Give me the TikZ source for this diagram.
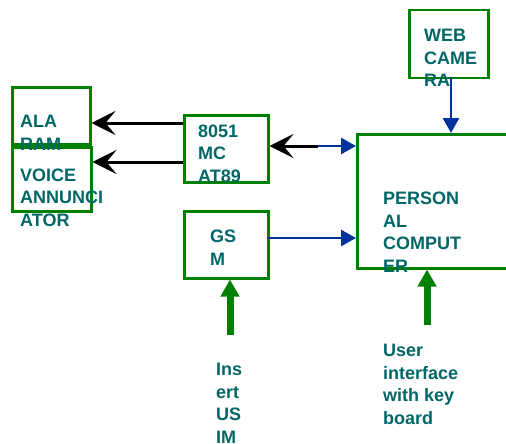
\documentclass[tikz,border=0pt]{standalone}
\usepackage{fontspec}
\setmainfont{Liberation Sans}
\usetikzlibrary{arrows.meta}
\definecolor{boxgreen}{RGB}{0,128,0}
\definecolor{labelteal}{RGB}{0,102,102}
\definecolor{linkblue}{RGB}{0,51,153}
\begin{document}
\begin{tikzpicture}[x=1pt,y=-1pt,
    unitbox/.style={draw=boxgreen, line width=2.5pt, inner sep=0pt, anchor=north west},
    boxtext/.style={color=labelteal, font=\fontsize{18}{22.5}\selectfont\bfseries, align=left, anchor=base west, inner sep=0pt},
    blacklink/.style={draw=black, line width=3pt, -{Stealth[length=24pt,width=24pt,inset=10pt]}},
    bluelink/.style={draw=linkblue, line width=2.5pt, -{Triangle[length=15pt,width=16pt]}},
    greenlink/.style={draw=boxgreen, line width=7pt, -{Triangle[length=17pt,width=18pt]}}]
    \clip (0,0) rectangle (506,444);
    % boxes
    \node[unitbox, minimum width=78pt, minimum height=57pt] (alarm) at (11,86) {};
    \node[unitbox, minimum width=79pt, minimum height=64pt] (voice) at (11,146) {};
    \node[unitbox, minimum width=84pt, minimum height=67pt] (mc) at (183,114) {};
    \node[unitbox, minimum width=84pt, minimum height=67pt] (gsm) at (183,210) {};
    \node[unitbox, minimum width=79pt, minimum height=68pt] (cam) at (408,9) {};
    \node[unitbox, minimum width=170pt, minimum height=134pt] (pc) at (356,133) {};
    % links
    \coordinate (alarmlink) at (183,123);
    \coordinate (voicelink) at (183,162);
    \coordinate (pclink) at (318,146);
    \coordinate (gsmlink) at (267,238);
    \coordinate (camlink) at (451,77);
    \coordinate (simtail) at (230,335);
    \coordinate (keytail) at (427,325);
    \draw[blacklink] (alarmlink) -- (alarm.east |- alarmlink);
    \draw[blacklink] (voicelink) -- (voice.east |- voicelink);
    \draw[blacklink] (pclink) -- (mc.east |- pclink);
    \draw[bluelink] (pclink) -- (pc.west |- pclink);
    \draw[bluelink] (gsmlink) -- (pc.west |- gsmlink);
    \draw[bluelink] (camlink) -- (pc.north -| camlink);
    \draw[greenlink] (simtail) -- (gsm.south -| simtail);
    \draw[greenlink] (keytail) -- (pc.south -| keytail);
    % labels (anchored on the last line)
    \node[boxtext] (alarmtext) at (20,150) {ALA\\RAM};
    \node[boxtext] (voicetext) at (20,226) {VOICE\\ANNUNCI\\ATOR};
    \node[boxtext] (mctext) at (198,182) {8051\\MC\\AT89};
    \node[boxtext] (gsmtext) at (210,265) {GS\\M};
    \node[boxtext] (camtext) at (424,87) {WEB\\CAME\\RA};
    \node[boxtext] (pctext) at (383,272) {PERSON\\AL\\COMPUT\\ER};
    \node[boxtext] (simtext) at (216,443) {Ins\\ert\\US\\IM};
    \node[boxtext] (keytext) at (383,424) {User\\interface\\with key\\board};
\end{tikzpicture}
\end{document}
